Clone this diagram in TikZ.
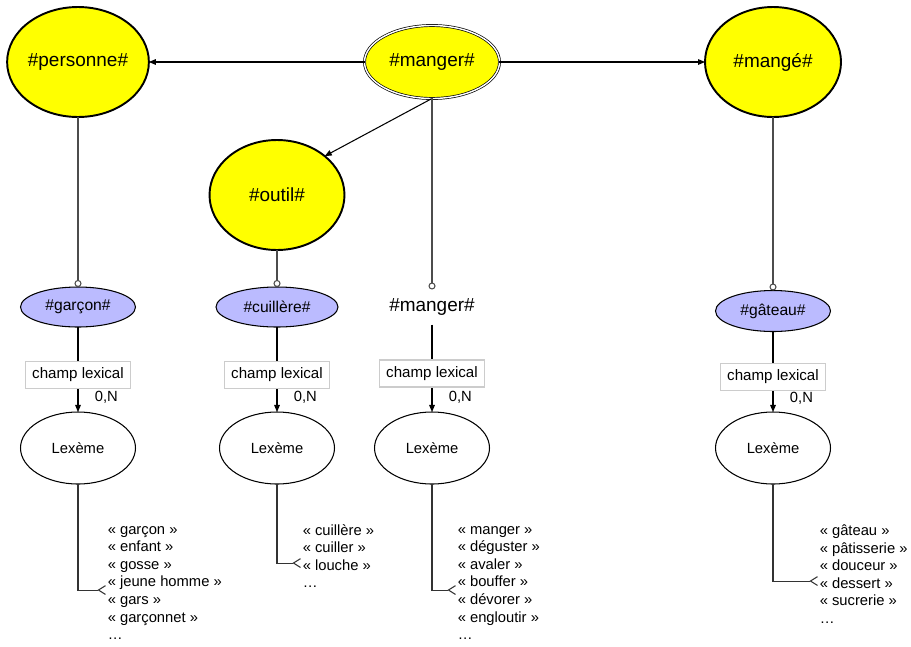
\documentclass[tikz,border=0pt]{standalone}
\usepackage{fontspec}
\setmainfont{Liberation Sans}
\usetikzlibrary{positioning,arrows.meta,shapes.geometric}
\definecolor{conceptYellow}{HTML}{FFFF00}
\definecolor{senseLavender}{HTML}{BBBBFF}
\definecolor{fieldFrame}{HTML}{CCCCCC}

\begin{document}
\begin{tikzpicture}[x=0.02cm, y=-0.02cm,
    concept/.style={ellipse, draw, line width=1.1pt, fill=conceptYellow, minimum width=2.74cm, minimum height=2.2cm, inner sep=0pt, outer sep=0pt, font=\fontsize{10.8}{13}\selectfont},
    sense/.style={ellipse, draw, line width=0.6pt, fill=senseLavender, minimum width=2.3cm, minimum height=0.8cm, inner sep=0pt, outer sep=0pt, font=\fontsize{8.9}{11}\selectfont},
    lexeme/.style={ellipse, draw, line width=0.6pt, fill=white, minimum width=2.3cm, minimum height=1.44cm, inner sep=0pt, outer sep=0pt, font=\fontsize{8.4}{10}\selectfont},
    words/.style={align=left, inner sep=1pt, outer sep=0pt, font=\fontsize{8.4}{10}\selectfont},
    field/.style={draw=fieldFrame, fill=white, minimum width=2.1cm, minimum height=0.54cm, inner sep=0pt, font=\fontsize{8.6}{10}\selectfont},
    card/.style={font=\fontsize{8.4}{10}\selectfont},
    rel/.style={draw, line width=0.6pt, -{Triangle[length=4pt, width=3.2pt]}},
    arg/.style={draw=black!70, line width=0.6pt, -{Circle[open, fill=white, length=4pt, width=4pt]}},
    many/.style={draw=black!80, line width=0.6pt, -{Straight Barb[reversed, length=4pt, width=5pt]}}]
  \useasboundingbox (0,0) rectangle (911,646);

  % concepts
  \node[concept] (personne) at (78,62) {\#personne\#};
  \node[concept, minimum width=2.7cm, minimum height=1.46cm, line width=0.4pt, double, double distance=0.8pt] (manger) at (432,62) {\#manger\#};
  \node[concept, minimum width=2.72cm] (mange) at (773,62) {\#mangé\#};
  \node[concept, minimum width=2.7cm] (outil) at (277,195) {\#outil\#};

  \draw[rel] (manger) -- (personne);
  \draw[rel] (manger) -- (mange);
  \draw[rel] (manger.south) -- (outil.north east);

  % senses
  \node[sense] (garcon) at (78,307) {\#garçon\#};
  \node[sense, minimum width=2.44cm] (cuillere) at (277,307) {\#cuillère\#};
  \node[inner sep=0pt, outer sep=0pt, minimum height=0.7cm, font=\fontsize{10.8}{13}\selectfont] (mangerlex) at (432,307) {\#manger\#};
  \node[sense, minimum height=0.82cm] (gateau) at (773,311) {\#gâteau\#};

  \draw[arg] (personne) -- (garcon);
  \draw[arg] (outil) -- (cuillere);
  \draw[arg] (manger) -- (mangerlex);
  \draw[arg] (mange) -- (gateau);

  % lexemes and their words
  \foreach \n/\x in {1/78, 2/277, 3/432, 4/773}
    \node[lexeme] (lex\n) at (\x,448) {Lexème};

  \foreach \s/\l in {garcon/lex1, cuillere/lex2, mangerlex/lex3, gateau/lex4}
    \draw[rel] (\s) -- (\l) node[field, pos=0.56] {champ lexical} node[card, pos=0.83, anchor=west, xshift=6pt] {0,N};

  \node[words, anchor=west] (mots1) at (106,583) {« garçon »\\« enfant »\\« gosse »\\« jeune homme »\\« gars »\\« garçonnet »\\…};
  \node[words, anchor=west] (mots2) at (301,556) {« cuillère »\\« cuiller »\\« louche »\\…};
  \node[words, anchor=west] (mots3) at (456,583) {« manger »\\« déguster »\\« avaler »\\« bouffer »\\« dévorer »\\« engloutir »\\…};
  \node[words, anchor=west] (mots4) at (818,574) {« gâteau »\\« pâtisserie »\\« douceur »\\« dessert »\\« sucrerie »\\…};

  \foreach \n in {1,...,4}
    \draw[many] (lex\n.south) |- ([yshift=-4pt]mots\n.west);
\end{tikzpicture}
\end{document}
